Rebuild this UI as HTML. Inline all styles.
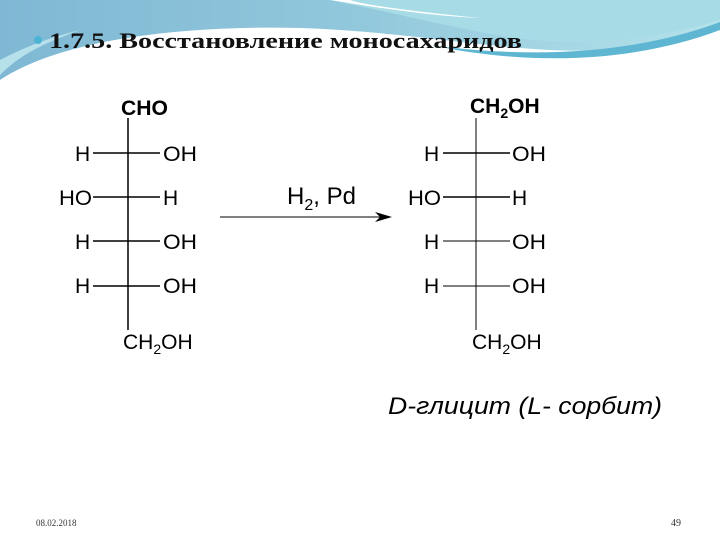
<!DOCTYPE html>
<html><head><meta charset="utf-8"><style>
body{margin:0;width:720px;height:540px;background:#fff;overflow:hidden;position:relative;font-family:"Liberation Sans",sans-serif}
svg{position:absolute;left:0;top:0}
</style></head><body>
<svg width="720" height="540" viewBox="0 0 720 540">
<defs>
<linearGradient id="g" x1="0" y1="0" x2="1" y2="0">
<stop offset="0" stop-color="#7fb8d4"/><stop offset="0.5" stop-color="#92c8dc"/><stop offset="1" stop-color="#b4e2ea"/></linearGradient>
</defs>
<rect width="720" height="90" fill="url(#g)"/>
<path d="M0 90 L0 80 C60 40 180 25 300 28 C420 32 520 55 600 50 C660 46 700 30 720 22 L720 90 Z" fill="#fff"/>
<path d="M330 0 C380 10 420 20 470 30 C540 45 620 50 720 20 L720 0 Z" fill="#a7dce6"/>
<path d="M330 0 C380 8 430 16 480 18 C400 10 360 4 350 0 Z" fill="#fff"/>
<path d="M430 45 C540 60 640 52 720 22 L720 30 C640 60 540 68 430 45 Z" fill="#5fb6d2"/>
<path d="M0 60 C20 50 40 40 80 30 C40 45 20 55 0 75 Z" fill="#b6e0ea"/>
<circle cx="38" cy="40" r="4" fill="#4bb4d4"/>
<text x="49" y="48" font-family="Liberation Serif,serif" font-weight="bold" font-size="22" fill="#111" textLength="473" lengthAdjust="spacingAndGlyphs">1.7.5. Восстановление моносахаридов</text>
<g stroke="#000" stroke-width="1.5">
<line x1="128" y1="118" x2="128" y2="330"/>
<line x1="93" y1="153" x2="160" y2="153"/>
<line x1="93" y1="197" x2="160" y2="197"/>
<line x1="93" y1="241" x2="160" y2="241"/>
<line x1="93" y1="286" x2="160" y2="286"/>
<line x1="476" y1="118" x2="476" y2="330" stroke-width="1"/>
<line x1="443" y1="153" x2="510" y2="153"/>
<line x1="443" y1="197" x2="510" y2="197"/>
<line x1="443" y1="241" x2="510" y2="241" stroke-width="1"/>
<line x1="443" y1="286" x2="510" y2="286" stroke-width="1"/>
<line x1="220" y1="217" x2="385" y2="217" stroke-width="1"/>
</g>
<path d="M392 217 L375 212 L380 217 L375 222 Z" fill="#000"/>
<g font-size="21" fill="#000">
<text x="121" y="115" font-weight="bold" textLength="47" lengthAdjust="spacingAndGlyphs">CHO</text>
<text x="75" y="161">H</text><text x="163" y="161" textLength="34" lengthAdjust="spacingAndGlyphs">OH</text>
<text x="59" y="205" textLength="33" lengthAdjust="spacingAndGlyphs">HO</text><text x="163" y="205">H</text>
<text x="75" y="249">H</text><text x="163" y="249" textLength="34" lengthAdjust="spacingAndGlyphs">OH</text>
<text x="75" y="293">H</text><text x="163" y="293" textLength="34" lengthAdjust="spacingAndGlyphs">OH</text>
<text x="123" y="349">CH<tspan font-size="14" dy="5">2</tspan><tspan dy="-5">OH</tspan></text>
<text x="470" y="113" font-weight="bold">CH<tspan font-size="14" dy="5">2</tspan><tspan dy="-5">OH</tspan></text>
<text x="424" y="161">H</text><text x="512" y="161" textLength="34" lengthAdjust="spacingAndGlyphs">OH</text>
<text x="408" y="205" textLength="33" lengthAdjust="spacingAndGlyphs">HO</text><text x="512" y="205">H</text>
<text x="424" y="249">H</text><text x="512" y="249" textLength="34" lengthAdjust="spacingAndGlyphs">OH</text>
<text x="424" y="293">H</text><text x="512" y="293" textLength="34" lengthAdjust="spacingAndGlyphs">OH</text>
<text x="472" y="349">CH<tspan font-size="14" dy="5">2</tspan><tspan dy="-5">OH</tspan></text>
<text x="287" y="204" font-size="24">H<tspan font-size="16" dy="6">2</tspan><tspan dy="-6">, Pd</tspan></text>
<text x="388" y="414" font-size="24" font-style="italic" textLength="274" lengthAdjust="spacingAndGlyphs">D-глицит (L- сорбит)</text>
</g>
<text x="36" y="526" font-family="Liberation Serif,serif" font-size="9" fill="#333">08.02.2018</text>
<text x="671" y="526" font-family="Liberation Serif,serif" font-size="10" fill="#333">49</text>
</svg>
</body></html>
